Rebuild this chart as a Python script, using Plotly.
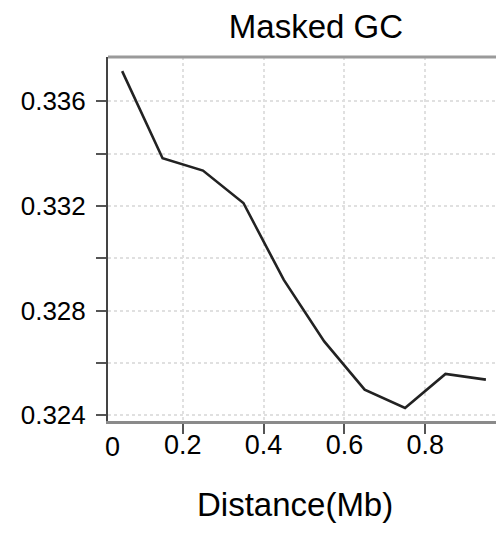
import plotly.graph_objects as go

distance_mb = [0.05, 0.15, 0.25, 0.35, 0.45, 0.55, 0.65, 0.75, 0.85, 0.95]
masked_gc = [0.33715, 0.33382, 0.33335, 0.33211, 0.32917, 0.32682, 0.32498, 0.32428, 0.32558, 0.32536]

x_tickvals = [0.2, 0.4, 0.6, 0.8]
x_ticktext = ["0.2", "0.4", "0.6", "0.8"]
y_tickvals = [0.324, 0.326, 0.328, 0.330, 0.332, 0.334, 0.336]
y_ticktext = ["0.324", "", "0.328", "", "0.332", "", "0.336"]

FONT = "Arial, 'Liberation Sans', sans-serif"

fig = go.Figure()
fig.add_trace(go.Scatter(
    x=distance_mb, y=masked_gc, mode="lines",
    line=dict(color="#222222", width=2.6),
    hoverinfo="skip", showlegend=False,
))

fig.update_layout(
    width=496, height=534,
    margin=dict(l=108, r=0, t=57, b=113),
    paper_bgcolor="white", plot_bgcolor="white",
    font=dict(family=FONT, color="black"),
    title=dict(text="Masked GC", font=dict(size=33, family=FONT, color="black"),
               x=0.637, xanchor="center", xref="container",
               y=1 - 26 / 534, yanchor="middle", yref="container"),
    xaxis=dict(
        range=[0.015, 0.975], tickvals=x_tickvals, ticktext=x_ticktext,
        ticks="outside", ticklen=10, tickwidth=2, tickcolor="#555555",
        tickfont=dict(size=27, family=FONT, color="black"),
        showline=True, linecolor="#8a8a8a", linewidth=2.5,
        showgrid=True, gridcolor="#e0e0e0", gridwidth=1.5, griddash="dot",
        zeroline=False, ticklabelstandoff=-12,
    ),
    yaxis=dict(
        range=[0.32378, 0.33769], tickvals=y_tickvals, ticktext=y_ticktext,
        ticks="outside", ticklen=10, tickwidth=2, tickcolor="#555555",
        tickfont=dict(size=26, family=FONT, color="black"),
        showline=True, linecolor="#444444", linewidth=2,
        showgrid=True, gridcolor="#e0e0e0", gridwidth=1.5, griddash="dot",
        zeroline=False, ticklabelstandoff=5,
    ),
    shapes=[dict(type="line", xref="paper", yref="paper", x0=0, x1=1, y0=1, y1=1,
                 line=dict(color="#9a9a9a", width=3))],
    annotations=[
        dict(text="0", xref="x", yref="paper", x=0.027, y=0, yshift=-26,
             xanchor="center", yanchor="middle", showarrow=False,
             font=dict(size=27, family=FONT, color="black")),
        dict(text="Distance(Mb)", xref="paper", yref="paper", x=(295 - 108) / 388,
             y=0, yshift=-(504 - 421), xanchor="center", yanchor="middle", showarrow=False,
             font=dict(size=33, family=FONT, color="black")),
    ],
)

fig.write_html("out.html")
